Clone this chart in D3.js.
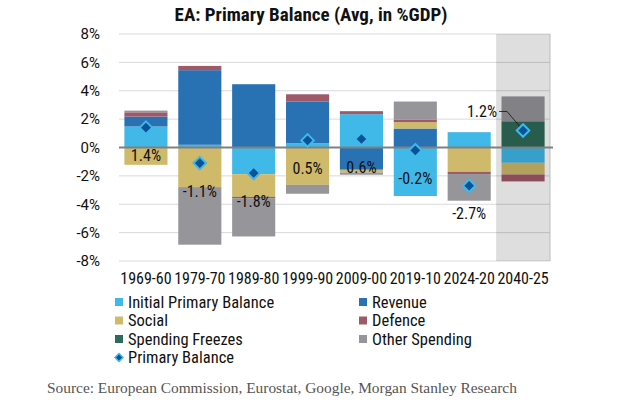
<!DOCTYPE html>
<html>
<head>
<meta charset="utf-8">
<script src="https://cdn.jsdelivr.net/npm/d3@7"></script>
<style>
  body { margin: 0; background: #fff; }
  text { font-family: "Roboto Condensed", "Liberation Sans Narrow", Roboto, sans-serif; }
</style>
</head>
<body>
<div id="chart"></div>
<script>
// Chart data (in % of GDP)
const periods = ["1969-60", "1979-70", "1989-80", "1999-90", "2009-00", "2019-10", "2024-20", "2040-25"];
const initialBalance = [1.48, 0.19, -1.88, 0.30, 2.35, -3.42, 1.08, -1.08];
const revenue        = [0.70, 5.26, 4.46, 2.93, -1.57, 1.34, 0, 0];
const social         = [-1.22, -2.79, -1.60, -2.63, -0.19, 0.45, -1.71, -0.82];
const defence        = [0.30, 0.30, -0.09, 0.52, 0.21, 0.16, -0.16, -0.49];
const freezes        = [0, 0, 0, 0, 0, 0, 0, 1.85];
const otherSpending  = [0.12, -4.06, -2.70, -0.63, -0.16, 1.29, -1.88, 1.75];
const primaryBalance = [1.4, -1.1, -1.8, 0.5, 0.6, -0.2, -2.7, 1.2];
const yTicks = [-8, -6, -4, -2, 0, 2, 4, 6, 8];

const seriesNames = ["Initial Primary Balance", "Revenue", "Social", "Defence", "Spending Freezes", "Other Spending"];
const seriesValues = [initialBalance, revenue, social, defence, freezes, otherSpending];
const colors = ["#40b8e8", "#2872b4", "#cfb96a", "#9e5a68", "#2e6b5a", "#96969a"];

const W = 643, H = 403;
const margin = { top: 34, right: 93, bottom: 142, left: 119 };
const width = W - margin.left - margin.right;
const height = H - margin.top - margin.bottom;

const svg = d3.select("#chart").append("svg")
    .attr("width", W)
    .attr("height", H);

// Title
svg.append("text")
    .attr("x", 311)
    .attr("y", 21)
    .attr("text-anchor", "middle")
    .style("font-weight", "bold")
    .style("font-size", "19px")
    .style("fill", "#111")
    .text("EA: Primary Balance (Avg, in %GDP)");

const g = svg.append("g")
    .attr("transform", `translate(${margin.left},${margin.top})`);

// Build rows for the stack
const rows = periods.map((p, i) => {
    const row = { period: p };
    seriesNames.forEach((s, j) => { row[s] = seriesValues[j][i]; });
    return row;
});

const stacked = d3.stack()
    .keys(seriesNames)
    .offset(d3.stackOffsetDiverging)(rows);

// Scales
const x = d3.scaleBand()
    .domain(periods)
    .range([0, width])
    .paddingInner(0.2)
    .paddingOuter(0.1);

const y = d3.scaleLinear()
    .domain([-8, 8])
    .range([height, 0]);

// Gridlines
g.append("g")
    .selectAll("line")
    .data(yTicks)
    .enter()
    .append("line")
    .attr("x1", 0)
    .attr("x2", width)
    .attr("y1", d => y(d))
    .attr("y2", d => y(d))
    .attr("stroke", "#d9d9d9")
    .attr("stroke-width", 1);

// Y axis labels
const yAxis = g.append("g")
    .attr("transform", "translate(-16,0)")
    .call(d3.axisLeft(y).tickValues(yTicks).tickSize(0).tickFormat(d => d + "%"));
yAxis.select(".domain").remove();
yAxis.selectAll("text")
    .style("font-size", "15px")
    .style("fill", "#111")
    .style("font-family", "Roboto, sans-serif");

// Bars
g.append("g")
    .selectAll("g")
    .data(stacked)
    .enter()
    .append("g")
    .attr("fill", (d, i) => colors[i])
    .selectAll("rect")
    .data(d => d)
    .enter()
    .append("rect")
    .attr("x", d => x(d.data.period))
    .attr("width", x.bandwidth())
    .attr("y", d => y(Math.max(d[0], d[1])))
    .attr("height", d => Math.abs(y(d[0]) - y(d[1])));

// Shaded forecast period
const lastBand = periods[periods.length - 1];
const step = x.step();
const shadeX = x(lastBand) - step * x.paddingInner() / 2;
g.append("rect")
    .attr("x", shadeX)
    .attr("y", 0)
    .attr("width", width - shadeX)
    .attr("height", height)
    .attr("fill", "#000")
    .attr("fill-opacity", 0.13);
g.append("line")
    .attr("x1", width).attr("x2", width)
    .attr("y1", 0).attr("y2", height)
    .attr("stroke", "#bdbdbd");

// Zero line
g.append("line")
    .attr("x1", 0)
    .attr("x2", width + 3)
    .attr("y1", y(0))
    .attr("y2", y(0))
    .attr("stroke", "#808080")
    .attr("stroke-width", 2);

// X axis labels
const xAxis = g.append("g")
    .attr("transform", `translate(0,${height + 9})`)
    .call(d3.axisBottom(x).tickSize(0));
xAxis.select(".domain").remove();
xAxis.selectAll("text")
    .style("font-size", "16px")
    .style("fill", "#111");

// Leader line for the last label
const lastI = periods.length - 1;
const cxLast = x(lastBand) + x.bandwidth() / 2;
g.append("polyline")
    .attr("points", [
        [cxLast - 24, y(primaryBalance[lastI]) - 19],
        [cxLast - 16, y(primaryBalance[lastI]) - 19],
        [cxLast, y(primaryBalance[lastI])]
    ].map(p => p.join(",")).join(" "))
    .attr("fill", "none")
    .attr("stroke", "#111")
    .attr("stroke-width", 0.8);

// Primary balance diamonds
const diamond = d3.symbol().type(d3.symbolDiamond2).size(100);
g.append("g")
    .selectAll("path")
    .data(primaryBalance)
    .enter()
    .append("path")
    .attr("d", diamond)
    .attr("transform", (d, i) => `translate(${x(periods[i]) + x.bandwidth() / 2},${y(d)})`)
    .attr("fill", "#0b5394")
    .attr("stroke", "#3fb8ee")
    .attr("stroke-width", 2);

// Data labels
g.append("g")
    .selectAll("text")
    .data(primaryBalance)
    .enter()
    .append("text")
    .attr("x", (d, i) => i === lastI ? cxLast - 26 : x(periods[i]) + x.bandwidth() / 2)
    .attr("y", (d, i) => i === lastI ? y(d) - 19 : y(d) + 28)
    .attr("dy", "0.35em")
    .attr("text-anchor", (d, i) => i === lastI ? "end" : "middle")
    .style("font-size", "16px")
    .style("fill", "#111")
    .text(d => d.toFixed(1) + "%");

// Legend
const legendItems = seriesNames.map((s, i) => ({ name: s, color: colors[i], type: "rect" }))
    .concat([{ name: "Primary Balance", type: "diamond" }]);
const legend = svg.append("g");
legendItems.forEach((item, i) => {
    const lx = i % 2 === 0 ? 115 : 359;
    const ly = 302 + Math.floor(i / 2) * 18.5;
    if (item.type === "rect") {
        legend.append("rect")
            .attr("x", lx)
            .attr("y", ly - 4)
            .attr("width", 8)
            .attr("height", 8)
            .attr("fill", item.color);
    } else {
        legend.append("path")
            .attr("d", d3.symbol().type(d3.symbolDiamond2).size(40))
            .attr("transform", `translate(${lx + 4},${ly})`)
            .attr("fill", "#0b5394")
            .attr("stroke", "#3fb8ee")
            .attr("stroke-width", 1.5);
    }
    legend.append("text")
        .attr("x", lx + 13)
        .attr("y", ly)
        .attr("dy", "0.35em")
        .style("font-size", "16.5px")
        .style("fill", "#111")
        .text(item.name);
});

// Source
svg.append("text")
    .attr("x", 47)
    .attr("y", 388)
    .attr("dy", "0.35em")
    .style("font-family", "'Liberation Serif', 'DejaVu Serif', serif")
    .style("font-size", "15.4px")
    .style("fill", "#555")
    .text("Source: European Commission, Eurostat, Google, Morgan Stanley Research");
</script>
</body>
</html>
